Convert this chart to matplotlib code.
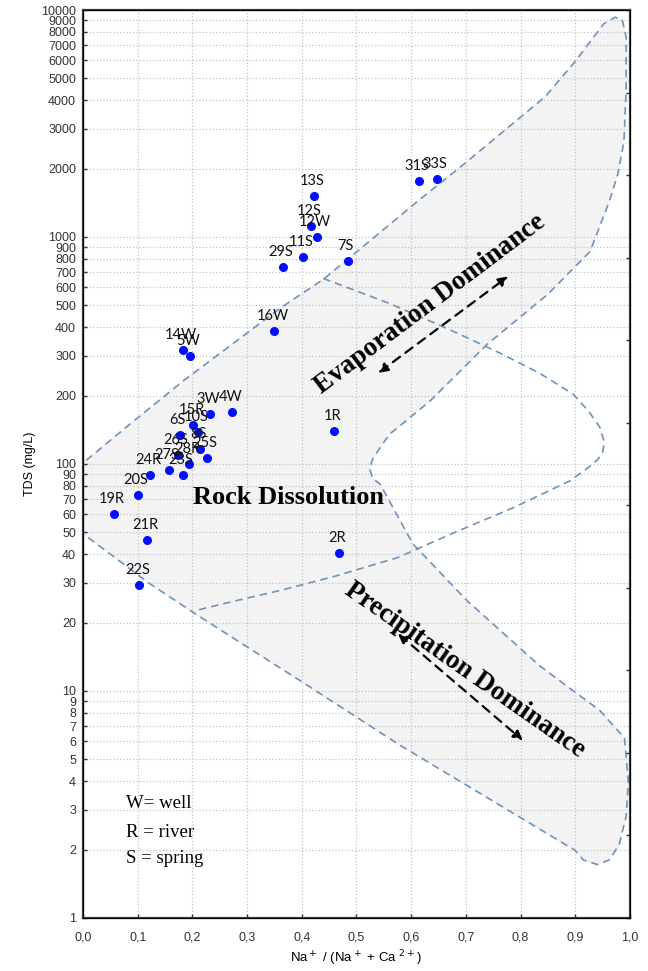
import matplotlib.pyplot as plt
from matplotlib.ticker import FixedLocator, NullLocator

# --- samples: Na/(Na+Ca) ratio and TDS (mg/L) ---
sample_ids = ["13S", "12S", "12W", "11S", "7S", "29S", "31S", "33S", "16W",
              "14W", "5W", "3W", "4W", "15R", "6S", "10S", "8S", "26S", "25S",
              "28R", "27S", "23S", "24R", "20S", "19R", "21R", "22S", "1R", "2R"]
na_ratio = [0.423, 0.417, 0.427, 0.403, 0.484, 0.365, 0.614, 0.647, 0.350,
            0.182, 0.196, 0.232, 0.273, 0.202, 0.177, 0.210, 0.214, 0.173, 0.226,
            0.194, 0.157, 0.183, 0.123, 0.101, 0.057, 0.117, 0.103, 0.459, 0.468]
tds = [1522, 1120, 995, 815, 786, 734, 1766, 1795, 384,
       317, 298, 166, 169, 149, 134, 138, 116, 110, 106,
       100, 94, 89, 89, 73, 60.5, 46.3, 29.3, 140, 40.6]

# --- Gibbs boomerang outline (ratio, TDS) ---
zone_x = [0.0, 0.0, 0.086, 0.183, 0.360, 0.439, 0.501, 0.611, 0.702, 0.845,
          0.899, 0.930, 0.952, 0.973, 0.986, 0.993, 0.993, 0.989, 0.978, 0.962,
          0.927, 0.850, 0.739, 0.634, 0.560, 0.530, 0.524, 0.530, 0.543, 0.603,
          0.702, 0.835, 0.945, 0.990, 0.997, 0.993, 0.980, 0.962, 0.940, 0.915,
          0.899, 0.762, 0.580, 0.397, 0.214, 0.122, 0.0]
zone_y = [49.3, 101, 150, 232, 485, 650, 863, 1432, 2148, 4150,
          5900, 7400, 8700, 9300, 9000, 7600, 4500, 2630, 1900, 1432,
          863, 560, 337, 189, 135, 106, 95, 86, 81.7, 44.5,
          25, 12.9, 8.2, 6.2, 4.0, 2.8, 2.1, 1.8, 1.72, 1.8,
          1.99, 3.14, 5.76, 11.1, 21.2, 29.7, 49.3]

# --- rock dissolution loop (ratio, TDS) ---
rock_x = [0.439, 0.560, 0.665, 0.760, 0.835, 0.896, 0.925, 0.945, 0.953, 0.950,
          0.940, 0.925, 0.890, 0.786, 0.680, 0.574, 0.460, 0.360, 0.280, 0.205]
rock_y = [657, 510, 396, 310, 251, 203, 170, 145, 125, 112,
          104, 97, 84.2, 64.1, 50, 38.6, 32, 27.7, 25, 22.6]

x_ticks = [0.0, 0.1, 0.2, 0.3, 0.4, 0.5, 0.6, 0.7, 0.8, 0.9, 1.0]
x_ticklabels = ["0,0", "0,1", "0,2", "0,3", "0,4", "0,5", "0,6", "0,7", "0,8", "0,9", "1,0"]
y_ticks = [1, 2, 3, 4, 5, 6, 7, 8, 9,
           10, 20, 30, 40, 50, 60, 70, 80, 90,
           100, 200, 300, 400, 500, 600, 700, 800, 900,
           1000, 2000, 3000, 4000, 5000, 6000, 7000, 8000, 9000, 10000]

line_col = "#7093ba"
serif = ["Liberation Serif", "DejaVu Serif"]

fig = plt.figure(figsize=(6.48, 9.71), dpi=100)
ax = fig.add_axes([0.1281, 0.0546, 0.8441, 0.9351])

ax.set_yscale("log")
ax.set_xlim(0, 1)
ax.set_ylim(1, 10000)

# zones
ax.fill(zone_x, zone_y, color="#f3f3f3", zorder=0)
ax.plot(zone_x, zone_y, color=line_col, lw=1.2, ls=(0, (4.5, 3)), zorder=1,
        clip_on=False)
ax.plot(rock_x, rock_y, color=line_col, lw=1.2, ls=(0, (4.5, 3)), zorder=1)

# grid
ax.xaxis.set_major_locator(FixedLocator(x_ticks))
ax.set_xticklabels(x_ticklabels)
ax.yaxis.set_major_locator(FixedLocator(y_ticks))
ax.yaxis.set_minor_locator(NullLocator())
ax.set_yticklabels([str(v) for v in y_ticks])
ax.grid(True, color="#c4c4c4", ls=":", lw=0.9, zorder=0.5)
ax.set_axisbelow(True)

ax.tick_params(axis="both", direction="in", length=3, width=1, colors="#333333",
               labelsize=9)
ax.tick_params(axis="x", pad=10)
ax.tick_params(axis="y", pad=5)
for lab in ax.get_xticklabels() + ax.get_yticklabels():
    lab.set_family(["Liberation Sans", "DejaVu Sans"])
for s in ax.spines.values():
    s.set_color("#404040")
    s.set_linewidth(1.6)

# right-side ticks (equally spaced, as in the original)
twin = ax.twinx()
twin.set_ylim(0, 11)
twin.yaxis.set_major_locator(FixedLocator(range(12)))
twin.tick_params(axis="y", direction="in", length=3, width=1, colors="#333333",
                 labelright=False)
twin.set_yticklabels([])

# samples
ax.plot(na_ratio, tds, ls="none", marker="o", ms=5.5, color="#0010ff", zorder=5)
for sid, xv, yv in zip(sample_ids, na_ratio, tds):
    ax.annotate(sid, (xv, yv), xytext=(-2, 15), textcoords="offset pixels",
                ha="center", va="center", fontsize=10.5, family=["Lato", "DejaVu Sans"],
                color="#111111", zorder=6)

# zone titles
ax.text(0.634, 505, "Evaporation Dominance", rotation=37, rotation_mode="anchor",
        ha="center", va="center", fontsize=19.5, fontweight="bold", family=serif)
ax.text(0.375, 70.9, "Rock Dissolution", ha="center", va="center",
        fontsize=19, fontweight="bold", family=serif)
ax.text(0.698, 12.3, "Precipitation Dominance", rotation=-35, rotation_mode="anchor",
        ha="center", va="center", fontsize=19.5, fontweight="bold", family=serif)

arrow = dict(arrowstyle="<|-|>", ls=(0, (4, 3)), lw=1.6, color="black",
             mutation_scale=14, shrinkA=0, shrinkB=0)
ax.annotate("", xy=(0.777, 670), xytext=(0.540, 252), arrowprops=arrow)
ax.annotate("", xy=(0.804, 6.06), xytext=(0.576, 17.9), arrowprops=arrow)

# key
ax.text(0.079, 3.2, "W= well", fontsize=13.5, family=serif, va="center")
ax.text(0.079, 2.39, "R = river", fontsize=13.5, family=serif, va="center")
ax.text(0.079, 1.82, "S = spring", fontsize=13.5, family=serif, va="center")

ax.set_ylabel("TDS (mg/L)", fontsize=9, family=["Liberation Sans", "DejaVu Sans"],
              labelpad=4)
ax.set_xlabel(r"Na$^+$ / (Na$^+$ + Ca $^{2+}$)", fontsize=9.5,
              family=["Liberation Sans", "DejaVu Sans"], labelpad=3)

fig.savefig("out.png", dpi=100)
